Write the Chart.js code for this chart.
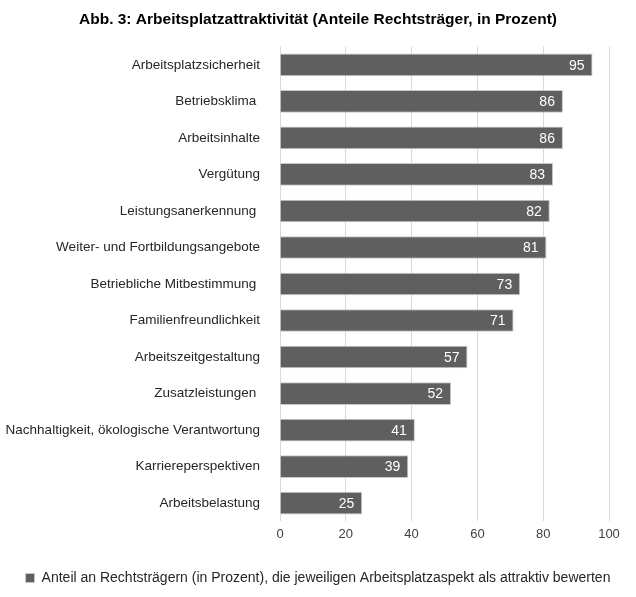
<!DOCTYPE html>
<html>
<head>
<meta charset="utf-8">
<script src="https://cdn.jsdelivr.net/npm/chart.js@4"></script>
<style>
  html, body { margin: 0; padding: 0; background: #fff; }
  #wrap { width: 636px; height: 597px; }
</style>
</head>
<body>
<div id="wrap"><canvas id="myChart"></canvas></div>
<script>
const categories = [
  'Arbeitsplatzsicherheit',
  'Betriebsklima ',
  'Arbeitsinhalte',
  'Vergütung',
  'Leistungsanerkennung ',
  'Weiter- und Fortbildungsangebote',
  'Betriebliche Mitbestimmung ',
  'Familienfreundlichkeit',
  'Arbeitszeitgestaltung',
  'Zusatzleistungen ',
  'Nachhaltigkeit, ökologische Verantwortung',
  'Karriereperspektiven',
  'Arbeitsbelastung'
];
const values = [95, 86, 86, 83, 82, 81, 73, 71, 57, 52, 41, 39, 25];
const xTicks = [0, 20, 40, 60, 80, 100];

const fontFamily = '"Liberation Sans", Arial, sans-serif';

// white value labels just inside the end of each bar
const barLabels = {
  id: 'barLabels',
  afterDatasetsDraw(chart) {
    const c = chart.ctx;
    const meta = chart.getDatasetMeta(0);
    c.save();
    c.font = '14px ' + fontFamily;
    c.fillStyle = '#ffffff';
    c.textAlign = 'right';
    c.textBaseline = 'middle';
    meta.data.forEach((bar, i) => {
      c.fillText(String(values[i]), bar.x - 8, bar.y + 1);
    });
    c.restore();
  }
};

const ctx = document.getElementById('myChart');

var myChart = new Chart(ctx, {
  type: 'bar',
  data: {
    labels: categories,
    datasets: [{
      label: 'Anteil an Rechtsträgern (in Prozent), die jeweiligen Arbeitsplatzaspekt als attraktiv bewerten',
      data: values,
      backgroundColor: '#5f5f5f',
      borderColor: '#c8c8c8',
      borderWidth: 1,
      categoryPercentage: 1,
      barPercentage: 0.62
    }]
  },
  plugins: [barLabels],
  options: {
    indexAxis: 'y',
    responsive: true,
    maintainAspectRatio: false,
    animation: false,
    layout: {
      padding: { left: 0, right: 0, top: 6, bottom: 2 }
    },
    scales: {
      x: {
        min: 0,
        max: 100,
        afterBuildTicks(scale) {
          scale.ticks = xTicks.map(v => ({ value: v }));
        },
        afterFit(scale) { scale.height = scale.height + 14; },
        grid: { color: '#d9d9d9', drawTicks: false, lineWidth: 1 },
        border: { display: false },
        ticks: {
          color: '#404040',
          padding: 5,
          font: { family: fontFamily, size: 13 }
        }
      },
      y: {
        afterFit(scale) { scale.width = 280; },
        grid: { display: false },
        border: { display: false },
        ticks: {
          color: '#262626',
          padding: 12,
          font: { family: fontFamily, size: 13.5 }
        }
      },
      // empty right-hand axis, only reserves the right margin
      yRight: {
        type: 'linear',
        position: 'right',
        afterFit(scale) { scale.width = 27; },
        grid: { display: false },
        border: { display: false },
        ticks: { display: false }
      }
    },
    plugins: {
      title: {
        display: true,
        text: 'Abb. 3: Arbeitsplatzattraktivität (Anteile Rechtsträger, in Prozent)',
        color: '#000000',
        font: { family: fontFamily, size: 15.5, weight: 'bold' },
        padding: { top: 4, bottom: 18 }
      },
      legend: {
        display: true,
        position: 'bottom',
        labels: {
          boxWidth: 9,
          boxHeight: 9,
          color: '#262626',
          padding: 10,
          font: { family: fontFamily, size: 14 }
        }
      },
      tooltip: { enabled: false }
    }
  }
});
</script>
</body>
</html>
